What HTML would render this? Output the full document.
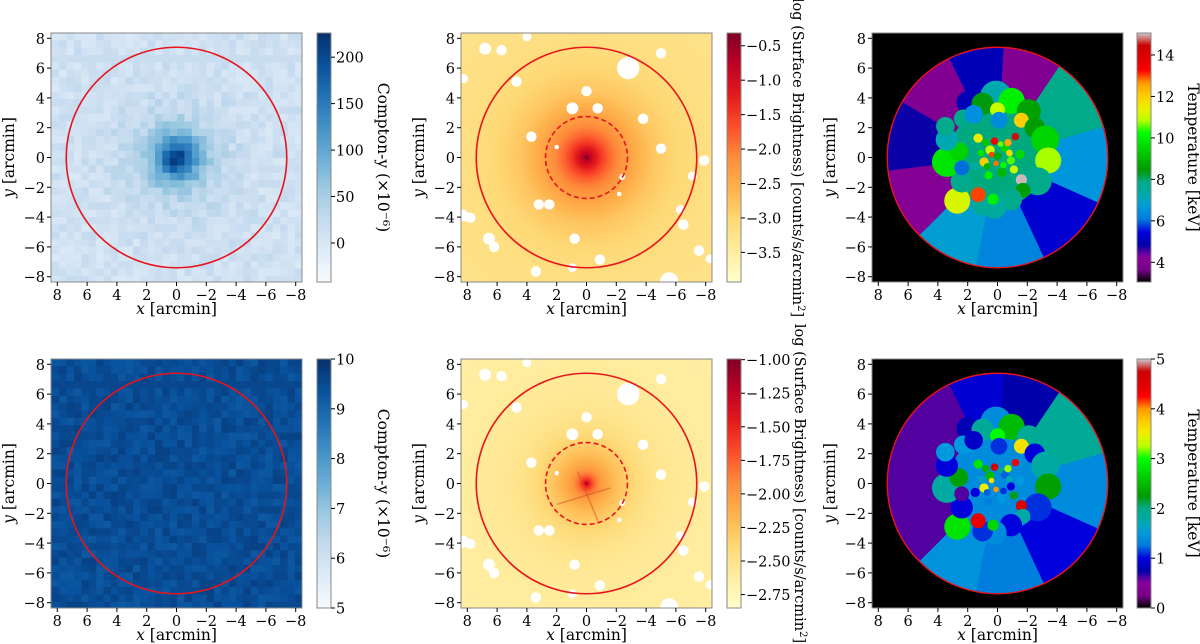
<!DOCTYPE html>
<html><head><meta charset="utf-8">
<style>
html,body{margin:0;padding:0;background:#fff;}
svg{display:block;font-family:"DejaVu Serif","Liberation Serif",serif;}
</style></head>
<body>
<svg id="fig" width="1200" height="644" viewBox="0 0 1200 644" xmlns="http://www.w3.org/2000/svg"></svg>
<script>
// ---------- data ----------
const axisTicks = [-8,-6,-4,-2,0,2,4,6,8];
const yProfR = [0,0.5,1,1.5,2,2.5,3,4,5,7,12];
const yProfTop = [220,190,140,95,65,45,32,22,16,12,10];
const yProfBot = [9.45,9.45,9.45,9.45,9.45,9.45,9.45,9.45,9.45,9.45,9.45];
const yNoiseTop = [8,-10,3,14,-6,0,-14,6,11,-3,-8,2,16,-12,5,-1,9,-7,12,-4,-15,4,7,-9,1,13,-5,-11,10,-2,3,-13,15,-6,8,-10,0];
const yNoiseBot = [0.1,-0.15,0.05,0.2,-0.08,0,-0.2,0.1,0.15,-0.05,-0.1,0.03,0.22,-0.18,0.07,-0.02,0.12,-0.1,0.18,-0.06,-0.22,0.06,0.1,-0.12,0.02,0.19,-0.07,-0.16,0.14,-0.03,0.05,-0.19,0.21,-0.09,0.11,-0.14,0];
const sbProfR = [0,0.3,0.6,1.0,1.5,2.0,2.7,3.5,4.5,6,8,12];
const sbProfTop = [-0.35,-0.8,-1.1,-1.45,-1.8,-2.05,-2.3,-2.55,-2.8,-3.0,-3.15,-3.25];
const sbProfBot = [-1.25,-1.55,-1.8,-2.0,-2.12,-2.22,-2.32,-2.42,-2.5,-2.56,-2.6,-2.64];
const maskX = [6.8,5.7,-2.8,-5.0,4.0,8.25,4.7,0,0.95,-0.75,-3.8,3.7,2.0,-5.0,-7.9,-7.1,-2.4,-2.2,3.2,2.5,8.3,7.8,-6.3,-6.5,0.8,6.55,6.2,-7.55,-8.3,-0.9,0.95,3.4,-5.55];
const maskY = [7.3,7.2,6.0,7.0,8.1,5.3,5.1,4.45,3.3,3.3,2.6,1.4,0.7,0.6,-0.2,-1.25,-1.3,-2.45,-3.15,-3.15,-3.9,-4.05,-3.5,-4.5,-5.45,-5.45,-6.0,-6.25,-6.8,-6.85,-7.4,-7.65,-8.3];
const maskR = [0.4,0.35,0.75,0.35,0.3,0.3,0.35,0.35,0.4,0.35,0.35,0.35,0.15,0.35,0.35,0.3,0.2,0.15,0.35,0.35,0.4,0.35,0.3,0.35,0.35,0.4,0.35,0.35,0.3,0.35,0.3,0.35,0.6];
const secStart = [16,56,87,116,150,187,225,259,295,336];
const secEnd   = [56,87,116,150,187,225,259,295,336,376];
const secTTop  = [7.8,4.0,5.0,4.0,4.8,4.1,6.8,6.3,5.3,6.6];
const secTBot  = [1.9,0.75,0.95,0.6,0.6,0.6,1.45,1.3,1.0,1.4];
const blobX = [0.1,2.0,1.0,-0.95,-2.1,0,-1.6,-2.5,-3.2,-3.4,-2.7,-1.6,-1.7,-0.9,0.2,1.0,1.3,2.7,0.3,2.4,3.4,2.6,2.4,3.4,3.5,2.3,1.6,-0.1,
  0.5,-0.5,0.9,-0.9,0.2,-0.3,1.3,-1.2,0.6,-0.7,1.1,-1.1,0,0.4,-0.4,0.8,-0.8,1.5,-1.5,0.1,-0.2,0.7];
const blobY = [4.1,3.7,3.6,3.8,3.1,3.2,2.5,2.0,1.2,-0.2,-1.6,-1.5,-2.2,-2.8,-3.3,-3.2,-2.5,-2.9,-2.8,-1.6,-0.3,0.4,-0.7,1.2,2.1,2.6,2.9,2.5,
  0.5,0.6,-0.3,-0.2,1.1,-1.0,1.3,1.4,-1.2,1.0,0.3,-0.8,0.1,0.2,-0.5,1.0,0.3,-0.6,0.2,-0.4,0.9,-0.6];
const blobR = [0.85,0.6,0.6,0.7,0.65,0.4,0.4,0.55,0.75,0.7,0.75,0.3,0.4,0.6,0.65,0.55,0.4,0.7,0.3,0.6,0.8,0.5,0.4,0.6,0.5,0.5,0.5,0.45,
  0.25,0.22,0.25,0.22,0.2,0.25,0.25,0.2,0.22,0.2,0.18,0.22,0.2,0.15,0.18,0.2,0.18,0.25,0.25,0.15,0.15,0.18];
const blobTTop = [7.2,5.0,8.4,10,8.6,11,12,8.5,9.5,10.8,7.8,15,8.5,7.8,7.5,7.6,13,11.2,10,7.8,9.8,9.5,6.0,7.2,7.8,7.8,6.5,6.4,
  11,9.5,12,10.5,13.5,9,11.5,14.5,10,12.5,9.8,11,8.8,13,10.2,9.2,11.8,7.5,9.6,12.8,10.6,9];
const blobTBot = [1.4,0.8,1.9,2.5,1.9,3.0,3.6,1.0,1.8,2.3,1.1,4.5,1.8,1.0,1.4,1.1,4.4,2.8,2.7,1.0,1.8,2.3,0.6,1.0,1.5,1.5,0.9,1.1,
  2.5,1.2,3.5,1.0,4.6,1.5,2.8,4.3,1.3,3.2,1.6,2.2,1.4,3.6,1.1,2.4,1.7,1.0,1.5,4.0,2.0,1.2];
const cbTicks1 = [0,50,100,150,200];
const cbTicks2 = [-3.5,-3.0,-2.5,-2.0,-1.5,-1.0,-0.5];
const cbTicks3 = [4,6,8,10,12,14];
const cbTicks4 = [5,6,7,8,9,10];
const cbTicks5 = [-2.75,-2.5,-2.25,-2.0,-1.75,-1.5,-1.25,-1.0];
const cbTicks6 = [0,1,2,3,4,5];

// ---------- colormaps ----------
const BLUES=['#f7fbff','#deebf7','#c6dbef','#9ecae1','#6baed6','#4292c6','#2171b5','#08519c','#08306b'];
const YLORRD=['#ffffcc','#ffeda0','#fed976','#feb24c','#fd8d3c','#fc4e2a','#e31a1c','#bd0026','#800026'];
const NIPY=[[0,0,0],[.4667,0,.5333],[.5333,0,.6],[0,0,.6667],[0,0,.8667],[0,.4667,.8667],[0,.6,.8667],[0,.6667,.6667],[0,.6667,.5333],[0,.6,0],[0,.7333,0],[0,.8667,0],[0,1,0],[.7333,1,0],[.9333,.9333,0],[1,.8,0],[1,.6,0],[1,0,0],[.8667,0,0],[.8,0,0],[.8,.8,.8]].map(c=>'#'+c.map(v=>Math.round(v*255).toString(16).padStart(2,'0')).join(''));
function hex2(h){return [1,3,5].map(i=>parseInt(h.substr(i,2),16));}
function cmap(stops,t){t=Math.max(0,Math.min(1,t));const n=stops.length-1;const f=t*n;const i=Math.min(n-1,Math.floor(f));const u=f-i;const a=hex2(stops[i]),b=hex2(stops[i+1]);return 'rgb('+a.map((v,k)=>Math.round(v+(b[k]-v)*u)).join(',')+')';}
function interp(xs,ys,x){if(x<=xs[0])return ys[0];for(let i=1;i<xs.length;i++){if(x<=xs[i]){const u=(x-xs[i-1])/(xs[i]-xs[i-1]);return ys[i-1]+(ys[i]-ys[i-1])*u;}}return ys[ys.length-1];}

// ---------- layout ----------
const NS='http://www.w3.org/2000/svg';
const svg=document.getElementById('fig');
const SC=14.9, EXT=8.4, FS=14.5;
const colL=[51,461,872], colW=251;
const rowT=[33,359], rowH=249;
const cbL=[317,727,1137], cbW=14;
function el(tag,attrs,parent){const e=document.createElementNS(NS,tag);for(const k in attrs)e.setAttribute(k,attrs[k]);(parent||svg).appendChild(e);return e;}
function fx(c,x){return colL[c]+colW/2 - x*SC;}
function fy(r,y){return rowT[r]+rowH/2 - y*SC;}

function panelGroup(c,r,name){
  const id='clip'+c+r;
  const cp=el('clipPath',{id:id});
  el('rect',{x:colL[c],y:rowT[r],width:colW,height:rowH},cp);
  const g=el('g',{'clip-path':'url(#'+id+')'});
  
  
  return g;
}
function axes(c,r){
  const L=colL[c],T=rowT[r];
  const fr=el('rect',{x:L,y:T,width:colW,height:rowH,fill:'none',stroke:'#888','stroke-width':1});
  
  
  axisTicks.forEach(v=>{
    const X=fx(c,v);
    el('line',{x1:X,x2:X,y1:T+rowH,y2:T+rowH+4,stroke:'#000','stroke-width':1});
    const t=el('text',{x:X,y:T+rowH+18,'font-size':FS,'text-anchor':'middle'});
    t.textContent=(v<0?'\u2212'+(-v):v);
    
    
    const Y=fy(r,v);
    el('line',{x1:L-4,x2:L,y1:Y,y2:Y,stroke:'#000','stroke-width':1});
    const t2=el('text',{x:L-6,y:Y+5.5,'font-size':FS,'text-anchor':'end'});
    t2.textContent=(v<0?'\u2212'+(-v):v);
    
    
  });
  const xl=el('text',{x:L+colW/2,y:T+rowH+32,'font-size':15.5,'text-anchor':'middle'});
  xl.innerHTML='<tspan font-style="italic">x</tspan> [arcmin]';
  
  
  const yx=L-37, yy=T+rowH/2;
  const yl=el('text',{x:yx,y:yy,'font-size':15.5,'text-anchor':'middle',transform:'rotate(-90 '+yx+' '+yy+')'});
  yl.innerHTML='<tspan font-style="italic">y</tspan> [arcmin]';
  
  
}
function colorbar(c,r,stops,vmin,vmax,ticks,fmt,label,lblDx,lfs){
  const id='grad'+c+r;
  const lg=el('linearGradient',{id:id,x1:0,y1:1,x2:0,y2:0});
  for(let i=0;i<=40;i++){el('stop',{offset:i/40,'stop-color':cmap(stops,i/40)},lg);}
  const L=cbL[c],T=rowT[r];
  const rc=el('rect',{x:L,y:T,width:cbW,height:rowH,fill:'url(#'+id+')',stroke:'#888','stroke-width':1});
  
  
  ticks.forEach(v=>{
    const Y=T+rowH-(v-vmin)/(vmax-vmin)*rowH;
    el('line',{x1:L+cbW,x2:L+cbW+4,y1:Y,y2:Y,stroke:'#000'});
    const t=el('text',{x:L+cbW+5,y:Y+5.5,'font-size':FS});
    t.textContent=fmt(v);
    
    
  });
  const lx=L+cbW+lblDx, ly=T+rowH/2;
  const lt=el('text',{x:lx,y:ly,'font-size':lfs||15.5,'text-anchor':'middle',transform:'rotate(90 '+lx+' '+ly+')'});
  lt.innerHTML=label;
  
  
}
const mfmt=(d)=>(v)=>(v<0?'\u2212':'')+Math.abs(v).toFixed(d);

// ---------- Compton-y panels ----------
function comptonPanel(r,prof,noise,vmin,vmax){
  const g=panelGroup(0,r,'compton-y-map');
  const N=34, cell=2*EXT/N;
  for(let i=0;i<N;i++)for(let j=0;j<N;j++){
    const x=-EXT+(i+0.5)*cell, y=-EXT+(j+0.5)*cell;
    const rr=Math.hypot(x,y);
    const v=interp(yProfR,prof,rr)+noise[(i*7+j*3+i*j)%noise.length];
    const rc=el('rect',{x:fx(0,x+cell/2),y:fy(r,y+cell/2),width:cell*SC+0.6,height:cell*SC+0.6,fill:cmap(BLUES,(v-vmin)/(vmax-vmin))},g);
    
    
  }
  const ci=el('circle',{cx:fx(0,0),cy:fy(r,0),r:7.4*SC,fill:'none',stroke:'#e8141c','stroke-width':1.6},g);
  
  
  axes(0,r);
}
comptonPanel(0,yProfTop,yNoiseTop,-42,226);
comptonPanel(1,yProfBot,yNoiseBot,5,10);
colorbar(0,0,BLUES,-42,226,cbTicks1,v=>String(v),'Compton-y (\u00d710\u207b\u2076)',47);
colorbar(0,1,BLUES,5,10,cbTicks4,v=>String(v),'Compton-y (\u00d710\u207b\u2076)',47);

// ---------- Surface brightness panels ----------
function sbPanel(r,prof,vmin,vmax,streaks){
  const g=panelGroup(1,r,'surface-brightness-map');
  el('rect',{x:colL[1],y:rowT[r],width:colW,height:rowH,fill:cmap(YLORRD,(prof[prof.length-1]-vmin)/(vmax-vmin))},g);
  for(let k=120;k>=1;k--){
    const rr=k*0.1;
    const v=interp(sbProfR,prof,rr);
    const c=el('circle',{cx:fx(1,0),cy:fy(r,0),r:rr*SC,fill:cmap(YLORRD,(v-vmin)/(vmax-vmin))},g);
    
    
  }
  el('circle',{cx:fx(1,0),cy:fy(r,0),r:0.12*SC,fill:cmap(YLORRD,(prof[0]-vmin)/(vmax-vmin))},g);
  if(streaks){
    el('line',{x1:fx(1,2.0),y1:fy(r,-1.4),x2:fx(1,-1.6),y2:fy(r,-0.3),stroke:'#d04a20','stroke-width':1.6,opacity:0.45},g);
    el('line',{x1:fx(1,0.6),y1:fy(r,0.8),x2:fx(1,-0.8),y2:fy(r,-2.6),stroke:'#d04a20','stroke-width':1.6,opacity:0.45},g);
  }
  maskX.forEach((mx,i)=>{
    const m=el('circle',{cx:fx(1,mx),cy:fy(r,maskY[i]),r:maskR[i]*SC,fill:'#ffffff'},g);
    
    
  });
  const ci=el('circle',{cx:fx(1,0),cy:fy(r,0),r:7.4*SC,fill:'none',stroke:'#e8141c','stroke-width':1.6},g);
  
  
  const cd=el('circle',{cx:fx(1,0),cy:fy(r,0),r:2.75*SC,fill:'none',stroke:'#e8141c','stroke-width':1.6,'stroke-dasharray':'5,3'},g);
  
  
  axes(1,r);
}
sbPanel(0,sbProfTop,-3.93,-0.315,false);
sbPanel(1,sbProfBot,-2.85,-0.995,true);
colorbar(1,0,YLORRD,-3.93,-0.315,cbTicks2,mfmt(1),'log (Surface Brightness) [counts/s/arcmin<tspan baseline-shift="super" font-size="10">2</tspan>]',52,14.5);
colorbar(1,1,YLORRD,-2.85,-0.995,cbTicks5,mfmt(2),'log (Surface Brightness) [counts/s/arcmin<tspan baseline-shift="super" font-size="10">2</tspan>]',54,14.5);

// ---------- Temperature panels ----------
function tPanel(r,secT,blobT,vmin,vmax,baseT){
  const g=panelGroup(2,r,'temperature-map');
  el('rect',{x:colL[2],y:rowT[r],width:colW,height:rowH,fill:'#000'},g);
  const cx=fx(2,0), cy=fy(r,0), R=7.4*SC;
  const col=v=>cmap(NIPY,(v-vmin)/(vmax-vmin));
  secStart.forEach((a0,i)=>{
    const a1=secEnd[i];const p0=a0*Math.PI/180,p1=a1*Math.PI/180;
    const d='M'+cx+','+cy+' L'+(cx+R*Math.cos(p0))+','+(cy-R*Math.sin(p0))+' A'+R+','+R+' 0 0 0 '+(cx+R*Math.cos(p1))+','+(cy-R*Math.sin(p1))+' Z';
    const p=el('path',{d:d,fill:col(secT[i]),stroke:col(secT[i]),'stroke-width':0.5},g);
    
    
  });
  el('circle',{cx:cx,cy:cy,r:3.3*SC,fill:col(baseT)},g);
  blobX.forEach((bx,i)=>{
    const b=el('circle',{cx:fx(2,bx),cy:fy(r,blobY[i]),r:blobR[i]*SC*1.25,fill:col(blobT[i])},g);
    
    
  });
  const ci=el('circle',{cx:cx,cy:cy,r:R,fill:'none',stroke:'#e8141c','stroke-width':1.4},g);
  
  
  axes(2,r);
}
tPanel(0,secTTop,blobTTop,3.05,15.06,7.9);
tPanel(1,secTBot,blobTBot,0,5,1.4);
colorbar(2,0,NIPY,3.05,15.06,cbTicks3,v=>String(v),'Temperature [keV]',37);
colorbar(2,1,NIPY,0,5,cbTicks6,v=>String(v),'Temperature [keV]',37);
</script>
</body></html>
